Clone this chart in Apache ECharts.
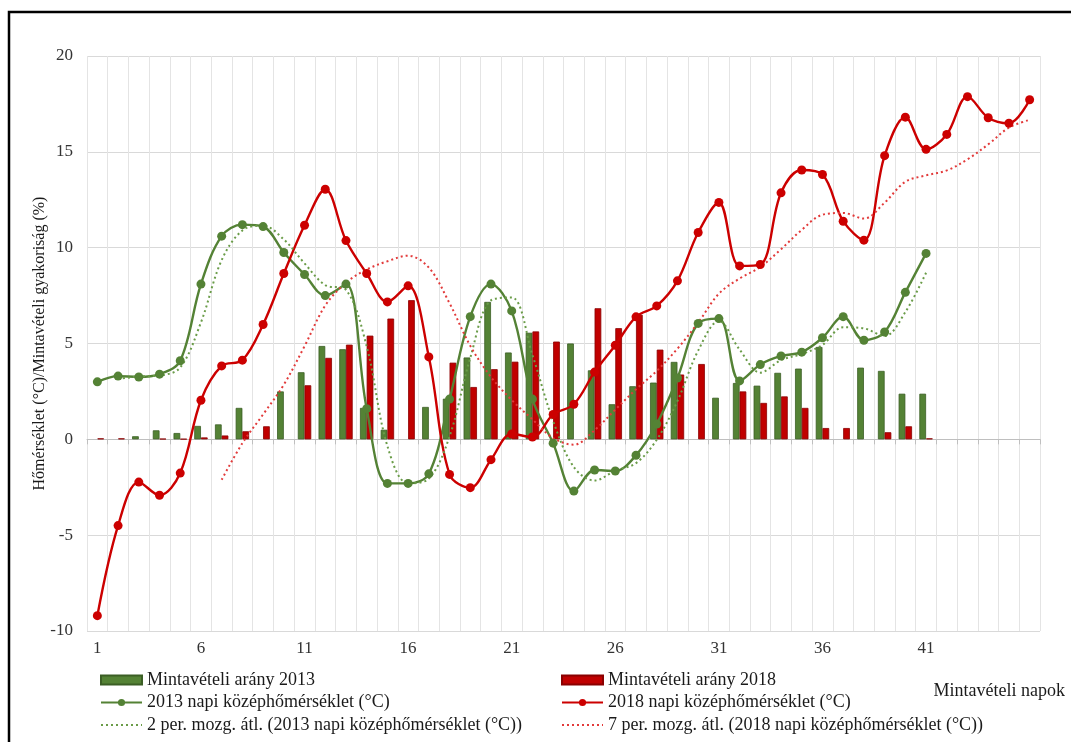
<!DOCTYPE html>
<html>
<head>
<meta charset="utf-8">
<script src="https://cdn.jsdelivr.net/npm/echarts@6/dist/echarts.min.js"></script>
<style>
html,body{margin:0;padding:0;background:#fff;}
#chart{width:1071px;height:742px;}
</style>
</head>
<body>
<div id="chart"></div>
<script>
// ---- data ----
const categories = ['1','2','3','4','5','6','7','8','9','10','11','12','13','14','15','16','17','18','19','20','21','22','23','24','25','26','27','28','29','30','31','32','33','34','35','36','37','38','39','40','41','42','43','44','45','46'];
const tickLabels = ['1','6','11','16','21','26','31','36','41'];
const yTicks = { min: -10, max: 20, interval: 5 };

const seriesNames = [
  'Mintavételi arány 2013',
  'Mintavételi arány 2018',
  '2013 napi középhőmérséklet (°C)',
  '2018 napi középhőmérséklet (°C)',
  '2 per. mozg. átl. (2013 napi középhőmérséklet (°C))',
  '7 per. mozg. átl. (2018 napi középhőmérséklet (°C))'
];

const ratio2013 = [null,null,0.16,0.47,0.33,0.7,0.78,1.64,null,2.5,3.5,4.87,4.7,1.64,0.5,null,1.69,2.12,4.27,7.17,4.53,5.56,null,5.0,3.6,1.83,2.77,2.96,4.04,null,2.17,2.94,2.8,3.47,3.69,4.82,null,3.74,3.57,2.38,2.38,null,null,null,null,null];
const ratio2018 = [0.05,0.05,null,0.03,0.02,0.1,0.2,0.42,0.68,null,2.82,4.25,4.94,5.41,6.3,7.26,null,4.0,2.73,3.66,4.05,5.63,5.1,null,6.84,5.8,6.5,4.68,3.38,3.93,null,2.5,1.9,2.24,1.64,0.59,0.59,null,0.37,0.68,0.05,null,null,null,null,null];

const temp2013 = [3.0,3.3,3.25,3.4,4.1,8.1,10.6,11.2,11.1,9.75,8.6,7.5,8.1,1.6,-2.3,-2.3,-1.8,2.1,6.4,8.1,6.7,2.1,-0.2,-2.7,-1.6,-1.65,-0.83,0.8,3.2,6.05,6.3,3.05,3.9,4.35,4.55,5.3,6.4,5.17,5.6,7.67,9.7,null,null,null,null,null];
const temp2018 = [-9.2,-4.5,-2.23,-2.92,-1.76,2.04,3.83,4.13,5.99,8.65,11.17,13.05,10.37,8.65,7.17,8.01,4.3,-1.83,-2.52,-1.06,0.28,0.12,1.3,1.83,3.51,4.91,6.39,6.96,8.27,10.79,12.36,9.05,9.12,12.86,14.05,13.82,11.38,10.39,14.8,16.81,15.13,15.91,17.88,16.78,16.49,17.72];

const ma2013 = [null,3.15,3.28,3.33,3.75,6.1,9.35,10.9,11.15,10.43,9.18,8.05,7.8,4.85,-0.35,-2.3,-2.05,0.15,4.25,7.25,7.4,4.4,0.95,-1.45,-2.15,-1.63,-1.24,-0.02,2.0,4.63,6.18,4.68,3.48,4.13,4.45,4.93,5.85,5.79,5.39,6.64,8.69,null,null,null,null,null];
const ma2018 = [null,null,null,null,null,null,-2.11,-0.2,1.3,2.85,4.86,6.98,8.17,8.86,9.29,9.58,8.96,7.1,4.88,3.25,2.05,1.04,0.07,-0.28,0.48,1.55,2.61,3.57,4.73,6.09,7.6,8.39,8.99,9.92,10.93,11.72,11.81,11.52,12.35,13.44,13.77,14.03,14.61,15.39,16.26,16.67];

const yAxisTitle = 'Hőmérséklet (°C)/Mintavételi gyakoriság (%)';
const xAxisTitle = 'Mintavételi napok';

// ---- chart ----
const FONT = '"Liberation Serif", "Times New Roman", serif';
const GREEN = '#548235';
const RED = '#c00000';
const chart = echarts.init(document.getElementById('chart'), null, {renderer: 'canvas'});

const legendCommon = {
  orient: 'vertical',
  top: 671,
  itemWidth: 41,
  itemHeight: 9,
  itemGap: 4.5,
  padding: 0,
  selectedMode: false,
  textStyle: { fontFamily: FONT, fontSize: 18, color: '#1a1a1a' }
};

const option = {
  backgroundColor: '#fff',
  animation: false,
  grid: { left: 87, right: 31, top: 56, bottom: 111, containLabel: false },
  legend: [
    Object.assign({}, legendCommon, {
      left: 100,
      data: [
        {name: seriesNames[0], icon: 'rect'},
        seriesNames[2],
        {name: seriesNames[4], itemStyle: {opacity: 0}}
      ]
    }),
    Object.assign({}, legendCommon, {
      left: 561,
      data: [
        {name: seriesNames[1], icon: 'rect'},
        seriesNames[3],
        {name: seriesNames[5], itemStyle: {opacity: 0}}
      ]
    })
  ],
  xAxis: [
    {
      type: 'category',
      data: categories,
      boundaryGap: true,
      axisLine: { show: true, onZero: true, lineStyle: { color: '#bfbfbf', width: 1 } },
      axisTick: { show: true, interval: 0, length: 5, lineStyle: { color: '#bfbfbf' } },
      axisLabel: { show: false },
      splitLine: { show: true, interval: 0, lineStyle: { color: '#e4e4e4', width: 1 } }
    },
    {
      type: 'category',
      data: categories,
      position: 'bottom',
      boundaryGap: true,
      axisLine: { show: false, onZero: false },
      axisTick: { show: false },
      splitLine: { show: false },
      axisLabel: {
        interval: 0,
        margin: 9,
        fontFamily: FONT,
        fontSize: 17,
        color: '#333',
        formatter: function (v) { return tickLabels.indexOf(v) >= 0 ? v : ''; }
      }
    }
  ],
  yAxis: {
    type: 'value',
    min: yTicks.min,
    max: yTicks.max,
    interval: yTicks.interval,
    name: yAxisTitle,
    nameLocation: 'middle',
    nameGap: 39,
    nameMoveOverlap: false,
    nameTextStyle: { fontFamily: FONT, fontSize: 16, color: '#1a1a1a' },
    axisLine: { show: false },
    axisTick: { show: false },
    axisLabel: { margin: 14, fontFamily: FONT, fontSize: 17, color: '#333' },
    splitLine: { lineStyle: { color: '#d9d9d9', width: 1.2 } }
  },
  series: [
    {
      name: seriesNames[0], type: 'bar', data: ratio2013, barWidth: 6.7, barGap: '0%',
      itemStyle: { color: GREEN, borderColor: '#3b5e25', borderWidth: 0.8 }
    },
    {
      name: seriesNames[1], type: 'bar', data: ratio2018, barWidth: 6.7, barGap: '0%',
      itemStyle: { color: RED, borderColor: '#8a0000', borderWidth: 0.8 }
    },
    {
      name: seriesNames[2], type: 'line', data: temp2013, smooth: 0.35,
      symbol: 'circle', symbolSize: 9, connectNulls: false,
      lineStyle: { color: GREEN, width: 2.4 }, itemStyle: { color: GREEN }
    },
    {
      name: seriesNames[3], type: 'line', data: temp2018, smooth: 0.35,
      symbol: 'circle', symbolSize: 9,
      lineStyle: { color: '#cc0000', width: 2.4 }, itemStyle: { color: '#cc0000' }
    },
    {
      name: seriesNames[4], type: 'line', data: ma2013, smooth: 0.35,
      symbol: 'none', showSymbol: false,
      lineStyle: { color: '#6a9c48', width: 2, type: [2, 3] }, itemStyle: { color: '#6a9c48' }
    },
    {
      name: seriesNames[5], type: 'line', data: ma2018, smooth: 0.35,
      symbol: 'none', showSymbol: false,
      lineStyle: { color: '#e23a3a', width: 2, type: [2, 3] }, itemStyle: { color: '#e23a3a' }
    }
  ],
  graphic: [
    {
      type: 'rect', silent: true, z: 100,
      shape: { x: 9, y: 12, width: 1200, height: 900 },
      style: { fill: 'none', stroke: '#000', lineWidth: 2.5 }
    },
    {
      type: 'text', silent: true,
      x: 1065, y: 691,
      style: {
        text: xAxisTitle, textAlign: 'right', textVerticalAlign: 'middle',
        font: '18px ' + FONT, fill: '#1a1a1a'
      }
    }
  ]
};
chart.setOption(option);
</script>
</body>
</html>
